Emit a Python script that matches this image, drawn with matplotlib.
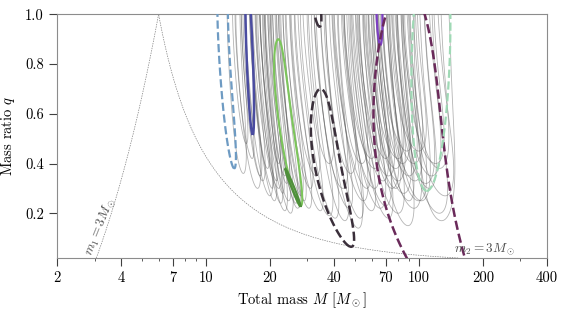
import numpy as np
import matplotlib.pyplot as plt
from matplotlib.ticker import FixedLocator, FixedFormatter, NullFormatter

plt.rcParams['font.family'] = 'serif'
plt.rcParams['font.serif'] = ['cmr10']
plt.rcParams['mathtext.fontset'] = 'cm'
plt.rcParams['axes.unicode_minus'] = False
plt.rcParams['axes.formatter.use_mathtext'] = True

# background events (thin grey 90% regions)
# centre total mass at q=1, total mass at the low-q tip, lowest q, width ratio
gray_top = [13.5, 14.0, 14.5, 15.0, 15.5, 16.0, 16.5, 17.0, 17.0, 17.5,
            18.0, 18.0, 18.5, 19.0, 19.0, 19.5, 20.0, 20.0, 20.5, 21.0,
            21.5, 22.0, 23.0, 23.5, 24.0, 25.0, 26.0,
            27.5, 29.0, 31.0, 33.0, 35.0, 36.0, 37.0, 39.0, 40.0, 41.0,
            43.0, 44.0, 45.0, 47.0,
            49, 50, 51, 53, 54, 55, 57, 58, 59, 61, 62, 63, 65, 66, 67, 69,
            70, 71, 73, 74, 75, 77, 78, 80, 83, 85, 86, 90, 92, 94, 98, 100,
            103, 108, 115]
gray_tip = [15.0, 15.5, 16.5, 17.5, 18.0, 18.5, 20.0, 19.5, 20.5, 21.0,
            22.0, 21.5, 22.5, 23.5, 23.0, 22.0, 24.5, 23.5, 25.0, 24.0,
            26.5, 27.0, 28.0, 29.0, 30.5, 31.0, 34.5,
            33.0, 38.0, 40.5, 38.0, 45.0, 47.0, 44.0, 52.0, 53.0, 48.0,
            55.0, 57.0, 60.0, 54.0,
            62, 60, 66, 62, 72, 70, 68, 70, 72, 80, 78, 75, 78, 80, 89, 80,
            90, 85, 84, 88, 95, 90, 96, 100, 95, 100, 103, 108, 112, 125, 115,
            120, 133, 125, 128]
gray_qmin = [0.36, 0.48, 0.42, 0.30, 0.35, 0.33, 0.27, 0.38, 0.30, 0.25,
             0.30, 0.33, 0.24, 0.21, 0.28, 0.40, 0.25, 0.35, 0.20, 0.32,
             0.24, 0.22, 0.27, 0.25, 0.22, 0.30, 0.21,
             0.35, 0.19, 0.18, 0.40, 0.17, 0.22, 0.30, 0.14, 0.18, 0.36,
             0.25, 0.30, 0.21, 0.40,
             0.30, 0.42, 0.22, 0.38, 0.18, 0.23, 0.33, 0.42, 0.35, 0.20, 0.30,
             0.30, 0.38, 0.42, 0.15, 0.33, 0.25, 0.28, 0.40, 0.45, 0.22, 0.35,
             0.33, 0.25, 0.40, 0.45, 0.25, 0.32, 0.30, 0.20, 0.35, 0.40, 0.27,
             0.38, 0.17]
gray_width = [1.15, 1.10, 1.12, 1.18, 1.12, 1.15, 1.18, 1.12, 1.12, 1.16,
              1.18, 1.12, 1.15, 1.18, 1.12, 1.12, 1.16, 1.12, 1.18, 1.15,
              1.15, 1.18, 1.16, 1.15, 1.20, 1.18, 1.22,
              1.22, 1.25, 1.25, 1.22, 1.26, 1.25, 1.26, 1.28, 1.25, 1.26,
              1.28, 1.25, 1.28, 1.26,
              1.28, 1.25, 1.32, 1.28, 1.30, 1.32, 1.28, 1.25, 1.32, 1.36, 1.30,
              1.32, 1.32, 1.30, 1.36, 1.32, 1.30, 1.36, 1.32, 1.30, 1.40, 1.36,
              1.35, 1.40, 1.36, 1.35, 1.40, 1.40, 1.35, 1.45, 1.40, 1.40, 1.45,
              1.40, 1.48]

# highlighted events
hl_qlo = [0.38, 0.515, 0.23, 0.225, 0.065, 0.95, 0.876, -0.30, 0.29]
hl_qhi = [1.40, 1.15, 0.90, 0.38, 0.70, 1.10, 1.15, 1.12, 1.40]
hl_mhi = [12.0, 15.8, 21.9, 23.6, 34.6, 33.6, 65.4, 86.5, 115.5]
hl_mlo = [13.6, 16.6, 27.9, 27.9, 48.1, 34.2, 66.0, 200.0, 109.0]
hl_width = [1.12, 1.07, 1.16, 1.03, 1.33, 1.08, 1.065, 2.12, 1.51]
hl_bend = [1.5, 1.0, 1.6, 1.0, 2.0, 1.0, 1.0, 3.3, 1.0]
hl_shape = [4, 2, 2.5, 2, 2.2, 2, 2, 2, 2]
hl_color = ['#6e9bc3', '#4a4ca0', '#7cc55b', '#4f8f3b', '#3a2f3a', '#3a2f3a',
            '#7d3fc2', '#6a2a5a', '#9fd9b5']
hl_style = ['--', '-', '-', '-', '--', '--', '-', '--', '--']
hl_lw = [1.6, 1.8, 1.5, 1.6, 1.8, 1.8, 1.6, 1.8, 1.6]

xticks = [2, 4, 7, 10, 20, 40, 70, 100, 200, 400]
yticks = [0.2, 0.4, 0.6, 0.8, 1.0]

lnM = np.linspace(np.log(2), np.log(400), 900)
qq = np.linspace(-0.4, 1.45, 700)
X, Y = np.meshgrid(lnM, qq)


def region(q_lo, q_hi, m_hi, m_lo, w, p=1.5, n=4):
    mid = 0.5 * (q_lo + q_hi)
    half = 0.5 * (q_hi - q_lo)
    top = min(q_hi, 1.0)
    f = np.clip((top - Y) / (top - q_lo), 0, 1) ** p
    centre = np.log(m_hi) + np.log(m_lo / m_hi) * f
    a = 0.5 * np.log(w)
    return ((X - centre) / a) ** 2 + np.abs((Y - mid) / half) ** n


fig = plt.figure(figsize=(5.73, 3.11), dpi=100)
ax = fig.add_axes([0.0995, 0.1704, 0.855, 0.7836])

for i in range(len(gray_top)):
    Z = region(gray_qmin[i], 1.25, gray_top[i], gray_tip[i], gray_width[i])
    ax.contour(np.exp(X), Y, Z, levels=[1], colors='0.35', linewidths=0.6,
               alpha=0.45, zorder=1)

for i in range(len(hl_mhi)):
    Z = region(hl_qlo[i], hl_qhi[i], hl_mhi[i], hl_mlo[i], hl_width[i],
               hl_bend[i], hl_shape[i])
    ax.contour(np.exp(X), Y, Z, levels=[1], colors=hl_color[i],
               linewidths=hl_lw[i], linestyles=hl_style[i], zorder=3)

# m1 = 3 and m2 = 3 boundaries
q_line = np.linspace(0.02, 1.0, 300)
ax.plot(3 * (1 + q_line), q_line, color='0.5', lw=0.5, ls=(0, (2, 1.5)), zorder=2)
ax.plot(3 + 3 / q_line, q_line, color='0.5', lw=0.5, ls=(0, (2, 1.5)), zorder=2)
ax.text(3.2, 0.145, r'$m_1 = 3M_\odot$', rotation=68, ha='center', va='center',
        fontsize=9.5, color='0.3')
ax.text(147, 0.026, r'$m_2 = 3M_\odot$', ha='left', va='bottom',
        fontsize=9.5, color='0.3')

ax.set_xscale('log')
ax.set_xlim(2, 400)
ax.set_ylim(0.02, 1.0)
ax.xaxis.set_major_locator(FixedLocator(xticks))
ax.xaxis.set_major_formatter(FixedFormatter([str(t) for t in xticks]))
ax.xaxis.set_minor_formatter(NullFormatter())
ax.yaxis.set_major_locator(FixedLocator(yticks))
ax.yaxis.set_major_formatter(FixedFormatter(['%.1f' % t for t in yticks]))

ax.tick_params(which='major', direction='out', length=6, width=0.8,
               color='0.25', labelsize=10.5)
ax.tick_params(which='minor', direction='out', length=2.5, width=0.6, color='0.25')
for s in ax.spines.values():
    s.set_color('0.55')
    s.set_linewidth(0.8)

ax.set_xlabel(r'Total mass $M$ [$M_\odot$]', fontsize=10.5)
ax.set_ylabel(r'Mass ratio $q$', fontsize=10.5, labelpad=6)

fig.savefig('out.png', dpi=100)
